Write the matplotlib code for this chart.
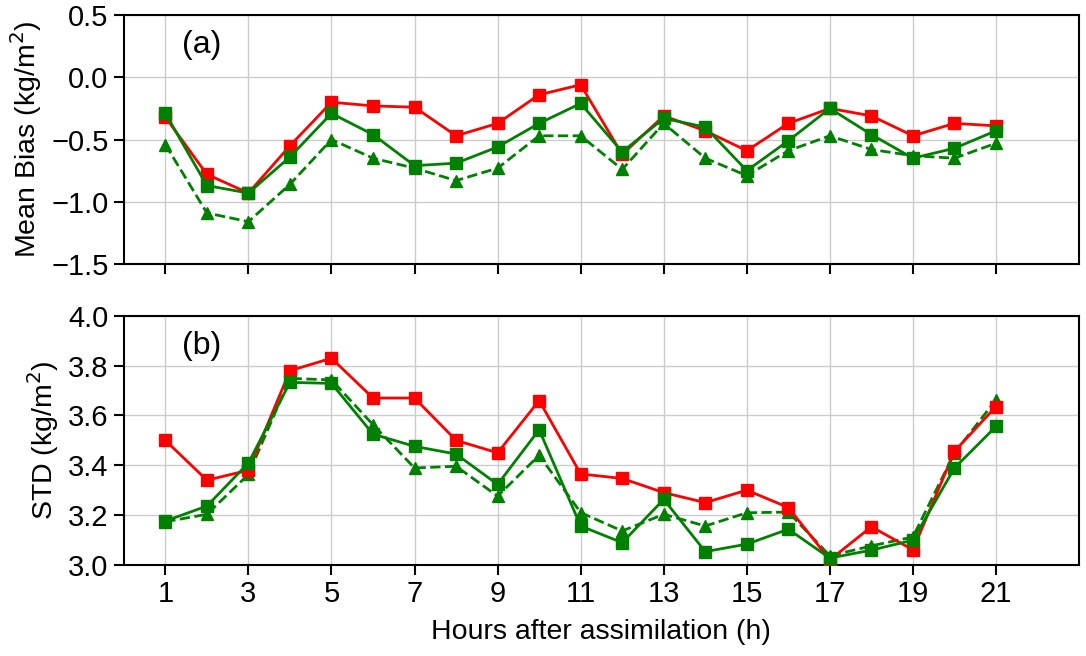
import matplotlib.pyplot as plt
import numpy as np

plt.rcParams['font.family'] = ['Liberation Sans', 'DejaVu Sans']

hours = np.arange(1, 22)

# (a) mean bias
bias_red = [-0.32, -0.78, -0.93, -0.55, -0.20, -0.23, -0.24, -0.47, -0.37, -0.14, -0.06,
            -0.62, -0.31, -0.43, -0.59, -0.37, -0.25, -0.31, -0.47, -0.37, -0.39]
bias_green = [-0.29, -0.87, -0.93, -0.64, -0.29, -0.46, -0.71, -0.69, -0.56, -0.37, -0.21,
              -0.60, -0.33, -0.40, -0.75, -0.51, -0.25, -0.46, -0.65, -0.57, -0.43]
bias_green_dash = [-0.54, -1.09, -1.16, -0.86, -0.50, -0.65, -0.73, -0.83, -0.73, -0.47, -0.47,
                   -0.74, -0.37, -0.65, -0.79, -0.59, -0.47, -0.58, -0.63, -0.65, -0.53]

# (b) STD
std_red = [3.50, 3.34, 3.38, 3.78, 3.83, 3.67, 3.67, 3.50, 3.45, 3.66, 3.365,
           3.347, 3.29, 3.25, 3.30, 3.23, 3.02, 3.153, 3.06, 3.456, 3.636]
std_green = [3.176, 3.236, 3.409, 3.733, 3.729, 3.525, 3.476, 3.445, 3.323, 3.543, 3.156,
             3.089, 3.263, 3.053, 3.083, 3.143, 3.027, 3.059, 3.099, 3.389, 3.556]
std_green_dash = [3.173, 3.203, 3.363, 3.749, 3.743, 3.563, 3.389, 3.396, 3.276, 3.440, 3.21,
                  3.136, 3.203, 3.156, 3.209, 3.212, 3.036, 3.076, 3.112, 3.449, 3.663]

fig = plt.figure(figsize=(10.86, 6.56), dpi=100)
ax1 = fig.add_axes([0.114, 0.5976, 0.8796, 0.3794])
ax2 = fig.add_axes([0.114, 0.139, 0.8796, 0.3794])

red = '#ff0000'
green = '#008000'


def draw(ax, r, g, gd):
    ax.plot(hours, gd, '--^', color=green, lw=2, ms=8.5, zorder=3)
    ax.plot(hours, r, '-s', color=red, lw=2, ms=8.5, zorder=4)
    ax.plot(hours, g, '-s', color=green, lw=2, ms=8.5, zorder=5)
    ax.set_xlim(0, 23)
    ax.set_xticks(np.arange(1, 22, 2))
    ax.grid(True, color='#cccccc', lw=1)
    ax.set_axisbelow(True)
    for s in ax.spines.values():
        s.set_linewidth(1.5)
    ax.tick_params(labelsize=21, width=1.5, length=7, pad=4)


draw(ax1, bias_red, bias_green, bias_green_dash)
ax1.set_ylim(-1.5, 0.5)
ax1.set_yticks([-1.5, -1.0, -0.5, 0.0, 0.5])
ax1.set_yticklabels(['\u22121.5', '\u22121.0', '\u22120.5', '0.0', '0.5'])
ax1.tick_params(labelbottom=False)
ax1.set_ylabel('Mean Bias (kg/m$^2$)', fontsize=20.5, labelpad=5)
ax1.text(0.061, 0.88, '(a)', transform=ax1.transAxes, fontsize=23, va='center')

draw(ax2, std_red, std_green, std_green_dash)
ax2.set_ylim(3.0, 4.0)
ax2.set_yticks([3.0, 3.2, 3.4, 3.6, 3.8, 4.0])
ax2.set_ylabel('STD (kg/m$^2$)', fontsize=20.5, labelpad=5)
ax2.set_xlabel('Hours after assimilation (h)', fontsize=20.5, labelpad=8)
ax2.text(0.061, 0.88, '(b)', transform=ax2.transAxes, fontsize=23, va='center')

fig.align_ylabels([ax1, ax2])
fig.savefig('out.png', dpi=100)
